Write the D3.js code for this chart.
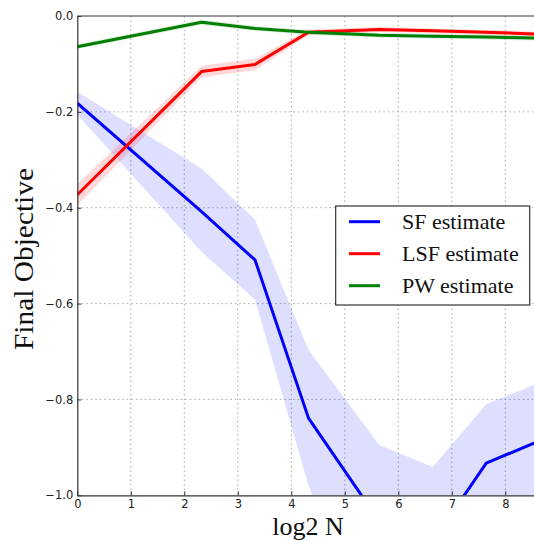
<!DOCTYPE html>
<html>
<head>
<meta charset="utf-8">
<script src="https://cdn.jsdelivr.net/npm/d3@7"></script>
<style>
  html, body { margin: 0; padding: 0; background: #fff; }
  svg { display: block; }
</style>
</head>
<body>
<svg id="chart" width="534" height="540"></svg>
<script>
// Sample sizes N (plotted on a log2 axis)
const sampleSizes = [1, 5, 10, 20, 50, 100, 200, 500];

// SF estimate: mean and shaded band
const sfMean = [-0.182, -0.408, -0.509, -0.839, -1.054, -1.096, -0.933, -0.871];
const sfLow  = [-0.206, -0.492, -0.592, -0.980, -1.350, -1.400, -1.300, -1.250];
const sfHigh = [-0.158, -0.318, -0.425, -0.697, -0.895, -0.941, -0.810, -0.750];

// LSF estimate
const lsfMean = [-0.373, -0.116, -0.101, -0.034, -0.028, -0.031, -0.034, -0.039];
const lsfLow  = [-0.395, -0.128, -0.113, -0.040, -0.033, -0.036, -0.039, -0.044];
const lsfHigh = [-0.351, -0.104, -0.089, -0.028, -0.023, -0.026, -0.029, -0.034];

// PW estimate
const pwMean = [-0.064, -0.013, -0.026, -0.034, -0.040, -0.042, -0.044, -0.047];
const pwLow  = [-0.069, -0.018, -0.031, -0.039, -0.045, -0.047, -0.049, -0.052];
const pwHigh = [-0.059, -0.008, -0.021, -0.029, -0.035, -0.037, -0.039, -0.042];

const xTicks = [0, 1, 2, 3, 4, 5, 6, 7, 8, 9];
const yTicks = [0, -0.2, -0.4, -0.6, -0.8, -1.0];
const seriesNames = ["SF estimate", "LSF estimate", "PW estimate"];
const seriesColors = ["#0000ff", "#ff0000", "#008000"];

const svg = d3.select("#chart");
const plotLeft = 77.3, plotTop = 16, plotBottom = 495.3;
const x = d3.scaleLinear().domain([0, 9]).range([plotLeft, plotLeft + 9 * 53.5]);
const y = d3.scaleLinear().domain([-1, 0]).range([plotBottom, plotTop]);
const plotRight = x(9);

svg.append("defs").append("clipPath").attr("id", "plotclip")
  .append("rect").attr("x", plotLeft).attr("y", plotTop)
  .attr("width", plotRight - plotLeft).attr("height", plotBottom - plotTop);

const xs = sampleSizes.map(n => Math.log2(n));

// grid
const grid = svg.append("g");
grid.selectAll(".vg").data(xTicks.filter(t => t > 0 && t < 9)).join("line")
  .attr("x1", d => x(d)).attr("x2", d => x(d)).attr("y1", plotTop).attr("y2", plotBottom)
  .attr("stroke", "#a8a8a8").attr("stroke-width", 1).attr("stroke-dasharray", "1.5,3");
grid.selectAll(".hg").data(yTicks.filter(t => t < 0 && t > -1)).join("line")
  .attr("x1", plotLeft).attr("x2", plotRight).attr("y1", d => y(d)).attr("y2", d => y(d))
  .attr("stroke", "#a8a8a8").attr("stroke-width", 1).attr("stroke-dasharray", "1.5,3");

const plot = svg.append("g").attr("clip-path", "url(#plotclip)");

const series = [
  { mean: sfMean, low: sfLow, high: sfHigh, bandOpacity: 0.13 },
  { mean: lsfMean, low: lsfLow, high: lsfHigh, bandOpacity: 0.15 },
  { mean: pwMean, low: pwLow, high: pwHigh, bandOpacity: 0.15 }
];

const area = d3.area().x(d => x(d.x)).y0(d => y(d.lo)).y1(d => y(d.hi));
const line = d3.line().x(d => x(d.x)).y(d => y(d.v));

series.forEach((s, i) => {
  const pts = xs.map((xv, k) => ({ x: xv, v: s.mean[k], lo: s.low[k], hi: s.high[k] }));
  plot.append("path").datum(pts).attr("d", area)
    .attr("fill", seriesColors[i]).attr("fill-opacity", s.bandOpacity).attr("stroke", "none");
});
series.forEach((s, i) => {
  const pts = xs.map((xv, k) => ({ x: xv, v: s.mean[k] }));
  plot.append("path").datum(pts).attr("d", line)
    .attr("fill", "none").attr("stroke", seriesColors[i]).attr("stroke-width", 3)
    .attr("stroke-linejoin", "round");
});

// axes
const axisColor = "#333";
const xAxis = d3.axisBottom(x).tickValues(xTicks.filter(t => t < 9))
  .tickFormat(d3.format("d")).tickSizeInner(-4).tickSizeOuter(0).tickPadding(6);
const gx = svg.append("g").attr("transform", `translate(0,${plotBottom})`).call(xAxis);
const yAxis = d3.axisLeft(y).tickValues(yTicks)
  .tickFormat(d => d3.format(".1f")(d).replace("-", "\u2212")).tickSizeInner(-4).tickSizeOuter(0).tickPadding(4);
const gy = svg.append("g").attr("transform", `translate(${plotLeft},0)`).call(yAxis);
[gx, gy].forEach(g => {
  g.select(".domain").attr("stroke", axisColor).attr("stroke-width", 1.2);
  g.selectAll(".tick line").attr("stroke", axisColor);
  g.selectAll(".tick text").attr("fill", "#222")
    .style("font-family", "DejaVu Sans, sans-serif").style("font-size", "11.5px");
});
gx.selectAll(".tick text").attr("dy", "0.6em");
// top frame line
svg.append("line").attr("x1", plotLeft).attr("x2", plotRight).attr("y1", plotTop).attr("y2", plotTop)
  .attr("stroke", axisColor).attr("stroke-width", 1.2);

// axis titles
svg.append("text").attr("x", 308).attr("y", 535).attr("text-anchor", "middle")
  .style("font-family", "Liberation Serif, serif").style("font-size", "26px").attr("fill", "#111")
  .text("log2 N");
svg.append("text").attr("transform", "translate(33,259) rotate(-90)").attr("text-anchor", "middle")
  .style("font-family", "Liberation Serif, serif").style("font-size", "28px").attr("fill", "#111")
  .attr("textLength", 182).attr("lengthAdjust", "spacingAndGlyphs")
  .text("Final Objective");

// legend
const lg = svg.append("g");
lg.append("rect").attr("x", 335.7).attr("y", 206).attr("width", 194).attr("height", 99)
  .attr("fill", "#fff").attr("stroke", "#333").attr("stroke-width", 1.2);
seriesNames.forEach((name, i) => {
  const yy = 221.7 + i * 32;
  lg.append("line").attr("x1", 349).attr("x2", 380).attr("y1", yy).attr("y2", yy)
    .attr("stroke", seriesColors[i]).attr("stroke-width", 3);
  lg.append("text").attr("x", 402).attr("y", yy + 7.5)
    .style("font-family", "Liberation Serif, serif").style("font-size", "22px").attr("fill", "#111")
    .text(name);
});
</script>
</body>
</html>
